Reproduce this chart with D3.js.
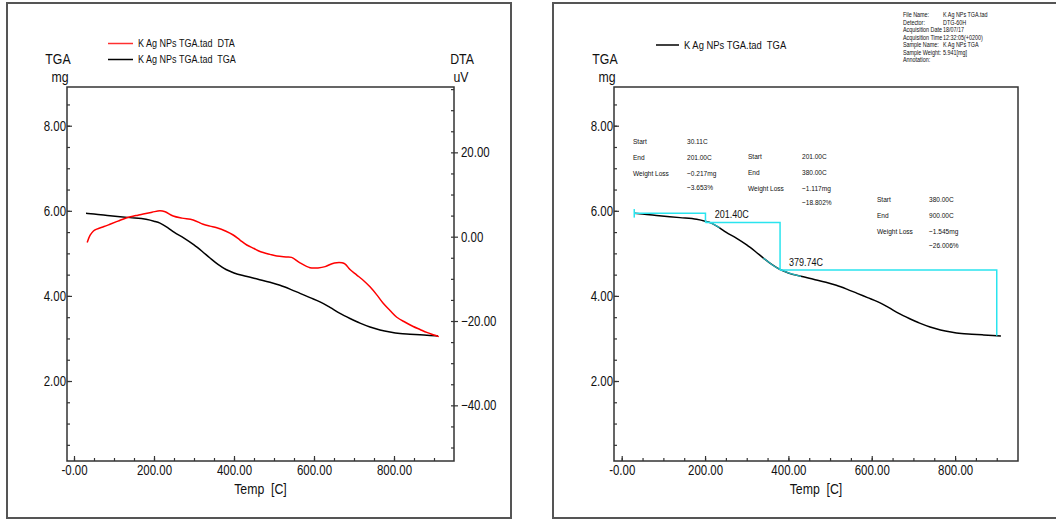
<!DOCTYPE html>
<html lang="en">
<head>
<meta charset="UTF-8">
<title>K Ag NPs TGA / DTA</title>
<script src="https://d3js.org/d3.v7.min.js"></script>
<style>
    body { margin: 0; background: #fff; }
    svg text {
        font-family: "Liberation Sans", Arial, sans-serif;
        fill: #111;
        white-space: pre;
    }
    .frame { fill: none; stroke: #555; stroke-width: 2; }
    .box { fill: none; stroke: #333; stroke-width: 1.5; }
    .axis path { display: none; }
    .axis line { stroke: #333; stroke-width: 1.2; }
    .axis text { font-size: 14px; }
</style>
</head>
<body>
<svg id="canvas" width="1056" height="522"></svg>
<script>
// TGA curve (temperature in C, weight in mg)
let tgaTemps = [30, 50, 90, 140, 180, 200, 215, 235, 250, 275, 300, 320, 340, 360, 380, 400,
                430, 460, 490, 515, 540, 565, 590, 615, 640, 665, 690, 715, 740, 765, 790,
                815, 840, 865, 890, 910];
let tgaMg = [5.94, 5.925, 5.885, 5.84, 5.80, 5.755, 5.71, 5.60, 5.50, 5.36, 5.20, 5.05, 4.89,
             4.74, 4.62, 4.54, 4.46, 4.39, 4.32, 4.25, 4.16, 4.06, 3.96, 3.86, 3.73, 3.59,
             3.47, 3.36, 3.27, 3.20, 3.15, 3.115, 3.10, 3.085, 3.07, 3.06];

// DTA curve (temperature in C, signal in uV)
let dtaTemps = [33, 40, 48, 57, 75, 90, 110, 132, 155, 173, 195, 215, 228, 248, 270, 298, 323,
                340, 357, 380, 398, 415, 432, 450, 465, 490, 507, 530, 544, 565, 590, 610,
                628, 645, 657, 670, 678, 690, 707, 725, 740, 757, 773, 790, 807, 828, 848,
                865, 882, 900, 912];
let dtaUv = [-1.4, 0.3, 1.3, 1.8, 2.4, 2.95, 3.7, 4.5, 5.0, 5.4, 5.8, 6.15, 5.9, 4.9, 4.4, 3.96,
             2.94, 2.5, 2.13, 1.3, 0.4, -0.8, -1.97, -2.8, -3.5, -4.2, -4.6, -4.8, -4.9, -6.2,
             -7.35, -7.4, -7.1, -6.4, -6.16, -6.2, -6.5, -7.8, -9.1, -10.5, -11.9, -13.8,
             -15.8, -17.5, -19.1, -20.3, -21.3, -22.0, -22.7, -23.3, -23.7];

// weight loss steps
let sampleWeight = 5.941;
let stepStart = [30.11, 201.00, 380.00];
let stepEnd = [201.00, 380.00, 900.00];
let stepLossMg = [-0.217, -1.117, -1.545];
let stepLossPct = [-3.653, -18.802, -26.006];
let stepLabels = ['201.40C', '379.74C'];
let stepLabelTemps = [201.40, 379.74];

// tick values
let xMajor = [0, 200, 400, 600, 800];
let xMinor = d3.range(0, 901, 50);
let tgaMajor = [2, 4, 6, 8];
let tgaMinor = d3.range(0.5, 8.6, 0.5);
let dtaMajor = [-40, -20, 0, 20];
let dtaMinor = d3.range(-50, 36, 5);

// file info
let infoKeys = ['File Name:', 'Detector:', 'Acquisition Date', 'Acquisition Time',
                'Sample Name:', 'Sample Weight:', 'Annotation:'];
let infoVals = ['K Ag NPs TGA.tad', 'DTG-60H', '18/07/17', '12:32:05(+0200)',
                'K Ag NPs TGA', '5.941[mg]', ''];

let svg = d3.select('#canvas');
let fmt = d3.format('.2f');
let xFmt = function(d){ return d === 0 ? '-0.00' : fmt(d); };

// outer frames
svg.append('rect').attr('class', 'frame').attr('x', 7).attr('y', 3).attr('width', 504).attr('height', 515);
svg.append('rect').attr('class', 'frame').attr('x', 553).attr('y', 3).attr('width', 560).attr('height', 515);

// draws the box, temperature axis and TGA axis of one panel
function drawPanel(left, right, xs, ys){
    let g = svg.append('g');
    g.append('rect').attr('class', 'box')
        .attr('x', left).attr('y', 87).attr('width', right - left).attr('height', 374);

    g.append('g').attr('class', 'axis').attr('transform', 'translate(0,461)')
        .call(d3.axisBottom(xs).tickValues(xMinor).tickSize(-3).tickFormat(''));
    g.append('g').attr('class', 'axis').attr('transform', 'translate(0,461)')
        .call(d3.axisBottom(xs).tickValues(xMajor).tickSize(-5).tickPadding(4).tickFormat(xFmt));

    g.append('g').attr('class', 'axis').attr('transform', 'translate(' + left + ',0)')
        .call(d3.axisLeft(ys).tickValues(tgaMinor).tickSize(-3).tickFormat(''));
    g.append('g').attr('class', 'axis').attr('transform', 'translate(' + left + ',0)')
        .call(d3.axisLeft(ys).tickValues(tgaMajor).tickSize(-5).tickPadding(1).tickFormat(fmt));

    g.append('text').attr('x', (left + right) / 2).attr('y', 494)
        .attr('text-anchor', 'middle').style('font-size', '15px').text('Temp  [C]');
    g.append('text').attr('x', left - 9).attr('y', 64)
        .attr('text-anchor', 'middle').style('font-size', '15px').text('TGA');
    g.append('text').attr('x', left - 7).attr('y', 82)
        .attr('text-anchor', 'middle').style('font-size', '15px').text('mg');
    return g;
}

// ---------- left panel: TGA + DTA ----------
let xL = d3.scaleLinear().domain([-17.5, 950]).range([67, 454]);
let yL = d3.scaleLinear().domain([0.12, 8.91]).range([461, 87]);
let yD = d3.scaleLinear().domain([-53.2, 35.5]).range([461, 87]);

let gL = drawPanel(67, 454, xL, yL);

gL.append('g').attr('class', 'axis').attr('transform', 'translate(454,0)')
    .call(d3.axisRight(yD).tickValues(dtaMinor).tickSize(-3).tickFormat(''));
gL.append('g').attr('class', 'axis').attr('transform', 'translate(454,0)')
    .call(d3.axisRight(yD).tickValues(dtaMajor).tickSize(4).tickPadding(3).tickFormat(fmt));
gL.append('text').attr('x', 462).attr('y', 64)
    .attr('text-anchor', 'middle').style('font-size', '15px').text('DTA');
gL.append('text').attr('x', 461).attr('y', 82)
    .attr('text-anchor', 'middle').style('font-size', '15px').text('uV');

let dtaLine = d3.line()
    .x(function(d, i){ return xL(dtaTemps[i]); })
    .y(function(d){ return yD(d); })
    .curve(d3.curveCatmullRom);
let tgaLineL = d3.line()
    .x(function(d, i){ return xL(tgaTemps[i]); })
    .y(function(d){ return yL(d); })
    .curve(d3.curveMonotoneX);

gL.append('path').attr('d', tgaLineL(tgaMg))
    .attr('fill', 'none').attr('stroke', '#000').attr('stroke-width', 1.5);
gL.append('path').attr('d', dtaLine(dtaUv))
    .attr('fill', 'none').attr('stroke', '#ff0000').attr('stroke-width', 1.5);

// legend
let legL = [['#ff3030', 'K Ag NPs TGA.tad  DTA'], ['#000', 'K Ag NPs TGA.tad  TGA']];
legL.forEach(function(d, i){
    let y = 43.5 + i * 16;
    gL.append('line').attr('x1', 108).attr('x2', 133).attr('y1', y).attr('y2', y)
        .attr('stroke', d[0]).attr('stroke-width', 1.5);
    gL.append('text').attr('x', 138).attr('y', y).attr('dy', '0.35em')
        .style('font-size', '11px').text(d[1]);
});

// ---------- right panel: TGA with weight loss steps ----------
let xR = d3.scaleLinear().domain([-18.5, 951]).range([614, 1018]);
let yR = d3.scaleLinear().domain([0.12, 8.91]).range([461, 87]);

let gR = drawPanel(614, 1018, xR, yR);

let tgaLineR = d3.line()
    .x(function(d, i){ return xR(tgaTemps[i]); })
    .y(function(d){ return yR(d); })
    .curve(d3.curveMonotoneX);
gR.append('path').attr('d', tgaLineR(tgaMg))
    .attr('fill', 'none').attr('stroke', '#000').attr('stroke-width', 1.5);

// cyan step lines
let cyan = '#2ae4ee';
let levels = [sampleWeight];
stepLossMg.forEach(function(d, i){ levels.push(levels[i] + d); });
let stepPath = d3.path();
stepPath.moveTo(xR(stepStart[0]), yR(levels[0]));
stepStart.forEach(function(s, i){
    stepPath.lineTo(xR(stepEnd[i]), yR(levels[i]));
    stepPath.lineTo(xR(stepEnd[i]), yR(levels[i + 1]));
    if (i < stepStart.length - 1) stepPath.moveTo(xR(stepEnd[i]), yR(levels[i + 1]));
});
gR.append('path').attr('d', stepPath.toString())
    .attr('fill', 'none').attr('stroke', cyan).attr('stroke-width', 1.5);
// small marker at start
gR.append('line')
    .attr('x1', xR(stepStart[0])).attr('x2', xR(stepStart[0]))
    .attr('y1', yR(levels[0] + 0.1)).attr('y2', yR(levels[0] - 0.1))
    .attr('stroke', cyan).attr('stroke-width', 1.5);
// cyan overlay on curve near the step points
let overlayRanges = [[201, 243], [325, 428]];
overlayRanges.forEach(function(r){
    let idx = tgaTemps.map(function(t, i){ return i; })
        .filter(function(i){ return tgaTemps[i] >= r[0] - 1 && tgaTemps[i] <= r[1] + 3; });
    let line = d3.line()
        .x(function(i){ return xR(tgaTemps[i]); })
        .y(function(i){ return yR(tgaMg[i]); })
        .curve(d3.curveMonotoneX);
    gR.append('path').attr('d', line(idx))
        .attr('fill', 'none').attr('stroke', cyan).attr('stroke-width', 1.2).attr('opacity', 0.8);
});

// step temperature labels
stepLabels.forEach(function(d, i){
    gR.append('text')
        .attr('x', xR(stepLabelTemps[i]) + 9)
        .attr('y', yR(levels[i + 1]) - 8)
        .attr('dy', '0.35em')
        .style('font-size', '11px').text(d);
});

// weight loss tables
let tablePos = [[633, 687, 141], [748, 802, 156], [877, 929, 199]];
stepStart.forEach(function(s, i){
    let p = tablePos[i];
    let rows = [['Start', fmt(s) + 'C'], ['End', fmt(stepEnd[i]) + 'C'],
                ['Weight Loss', d3.format('.3f')(stepLossMg[i]) + 'mg'],
                ['', d3.format('.3f')(stepLossPct[i]) + '%']];
    let ry = [0, 16, 32, 46];
    rows.forEach(function(r, j){
        gR.append('text').attr('x', p[0]).attr('y', p[2] + ry[j]).attr('dy', '0.35em')
            .style('font-size', '8px').text(r[0]);
        gR.append('text').attr('x', p[1]).attr('y', p[2] + ry[j]).attr('dy', '0.35em')
            .style('font-size', '8px').text(r[1]);
    });
});

// legend
gR.append('line').attr('x1', 656).attr('x2', 679).attr('y1', 45).attr('y2', 45)
    .attr('stroke', '#000').attr('stroke-width', 1.5);
gR.append('text').attr('x', 684).attr('y', 45).attr('dy', '0.35em')
    .style('font-size', '11.5px').text('K Ag NPs TGA.tad  TGA');

// file info block
infoKeys.forEach(function(k, i){
    let y = 15 + i * 7.5;
    svg.append('text').attr('x', 903).attr('y', y).attr('dy', '0.35em')
        .style('font-size', '6.6px').text(k);
    svg.append('text').attr('x', 943).attr('y', y).attr('dy', '0.35em')
        .style('font-size', '6.6px').text(infoVals[i]);
});

// the reference uses a condensed face, so squeeze every text horizontally
// around its anchor point
svg.selectAll('text').each(function(){
    let b = this.getBBox();
    if (b.width === 0) return;
    let anchor = getComputedStyle(this).textAnchor;
    let ax = anchor === 'middle' ? b.x + b.width / 2 : (anchor === 'end' ? b.x + b.width : b.x);
    this.setAttribute('transform', 'translate(' + ax + ',0) scale(0.82,1) translate(' + (-ax) + ',0)');
});
</script>
</body>
</html>
